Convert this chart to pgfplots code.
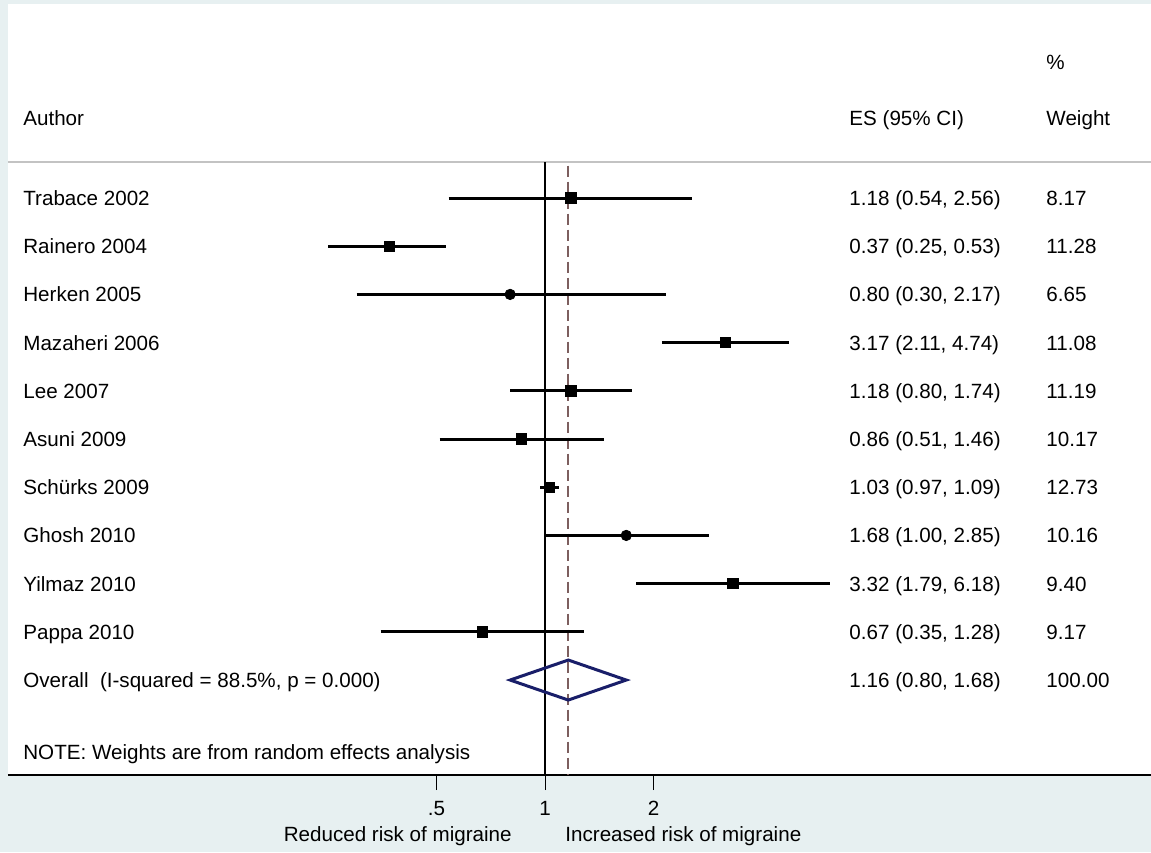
\documentclass[border=0pt]{standalone}
\usepackage{pgfplots}
\pgfplotsset{compat=1.18}
\usepackage{pgfplotstable}
\usepackage{fontspec}
\setmainfont{Liberation Sans}
\definecolor{bgc}{RGB}{231,240,241}
\definecolor{navyd}{RGB}{25,30,105}
\definecolor{dashc}{RGB}{125,95,95}
\definecolor{hdr}{RGB}{195,195,195}

% study rows: y = -row number
\pgfplotstableread{
y es
-1 1.18
-2 0.37
-4 3.17
-5 1.18
-6 0.86
-7 1.03
-9 3.32
-10 0.67
}\squares
\pgfplotstableread{
y es
-3 0.80
-8 1.68
}\circles
\pgfplotstableread{
x y
0.54 -1
2.56 -1
nan nan
0.25 -2
0.53 -2
nan nan
0.30 -3
2.17 -3
nan nan
2.11 -4
4.74 -4
nan nan
0.80 -5
1.74 -5
nan nan
0.51 -6
1.46 -6
nan nan
0.97 -7
1.09 -7
nan nan
1.00 -8
2.85 -8
nan nan
1.79 -9
6.18 -9
nan nan
0.35 -10
1.28 -10
}\cis

\tikzset{lab/.style={anchor=base west, inner sep=0pt, yshift=-3.7pt, font=\fontsize{10.3}{12}\selectfont}}

\begin{document}
\begin{tikzpicture}
\fill[bgc] (0,0) rectangle (575.5pt,426pt);
\begin{axis}[
  at={(4pt,38.5pt)}, anchor=south west,
  width=571.5pt, height=385.5pt, scale only axis,
  xmode=log, log basis x=2,
  xmin=0.03235, xmax=48.0,
  ymin=-12.97, ymax=3.025,
  axis x line*=bottom, axis y line=none,
  x axis line style={line width=1pt},
  axis background/.style={fill=white},
  xtick={0.5,1,2}, xticklabels={{.5},{1},{2}},
  minor xtick={}, ytick=\empty,
  tick align=outside, major tick length=7.5pt,
  tick style={black, line width=0.5pt},
  xticklabel style={anchor=base, yshift=-12.7pt, font=\fontsize{10.3}{12}\selectfont},
  clip=false,
]
% header separator
\addplot[hdr, line width=0.8pt] coordinates {(0.03235,-0.253) (48,-0.253)};
% null line and overall line
\addplot[black, line width=0.7pt] coordinates {(1,-0.253) (1,-12.97)};
\addplot[dashc, line width=0.8pt, dash pattern=on 5.5pt off 2.5pt] coordinates {(1.16,-0.33) (1.16,-12.97)};
% confidence intervals
\addplot[black, line width=1.5pt, unbounded coords=jump] table[x=x, y=y] {\cis};
% point estimates
\addplot[only marks, mark=square*, mark size=2.6pt, black] table[x=es, y=y] {\squares};
\addplot[only marks, mark=*, mark size=2.6pt, black] table[x=es, y=y] {\circles};
% overall diamond
\addplot[navyd, line width=1.5pt] coordinates {(0.80,-11) (1.16,-10.585) (1.68,-11) (1.16,-11.415) (0.80,-11)} -- cycle;

% headers
\node[lab] at (axis cs:24.55,1.82) {\%};
\node[lab] at (axis cs:0.0356,0.66) {Author};
\node[lab] at (axis cs:6.974,0.66) {ES (95\% CI)};
\node[lab] at (axis cs:24.55,0.66) {Weight};
% rows
\node[lab] at (axis cs:0.0356,-1) {Trabace 2002};
\node[lab] at (axis cs:0.0356,-2) {Rainero 2004};
\node[lab] at (axis cs:0.0356,-3) {Herken 2005};
\node[lab] at (axis cs:0.0356,-4) {Mazaheri 2006};
\node[lab] at (axis cs:0.0356,-5) {Lee 2007};
\node[lab] at (axis cs:0.0356,-6) {Asuni 2009};
\node[lab] at (axis cs:0.0356,-7) {Schürks 2009};
\node[lab] at (axis cs:0.0356,-8) {Ghosh 2010};
\node[lab] at (axis cs:0.0356,-9) {Yilmaz 2010};
\node[lab] at (axis cs:0.0356,-10) {Pappa 2010};
\node[lab] at (axis cs:0.0356,-11) {Overall\ \ (I-squared = 88.5\%, p = 0.000)};
\node[lab] at (axis cs:0.0356,-12.49) {NOTE: Weights are from random effects analysis};
\node[lab] at (axis cs:6.974,-1) {1.18 (0.54, 2.56)};
\node[lab] at (axis cs:6.974,-2) {0.37 (0.25, 0.53)};
\node[lab] at (axis cs:6.974,-3) {0.80 (0.30, 2.17)};
\node[lab] at (axis cs:6.974,-4) {3.17 (2.11, 4.74)};
\node[lab] at (axis cs:6.974,-5) {1.18 (0.80, 1.74)};
\node[lab] at (axis cs:6.974,-6) {0.86 (0.51, 1.46)};
\node[lab] at (axis cs:6.974,-7) {1.03 (0.97, 1.09)};
\node[lab] at (axis cs:6.974,-8) {1.68 (1.00, 2.85)};
\node[lab] at (axis cs:6.974,-9) {3.32 (1.79, 6.18)};
\node[lab] at (axis cs:6.974,-10) {0.67 (0.35, 1.28)};
\node[lab] at (axis cs:6.974,-11) {1.16 (0.80, 1.68)};
\node[lab] at (axis cs:24.55,-1) {8.17};
\node[lab] at (axis cs:24.55,-2) {11.28};
\node[lab] at (axis cs:24.55,-3) {6.65};
\node[lab] at (axis cs:24.55,-4) {11.08};
\node[lab] at (axis cs:24.55,-5) {11.19};
\node[lab] at (axis cs:24.55,-6) {10.17};
\node[lab] at (axis cs:24.55,-7) {12.73};
\node[lab] at (axis cs:24.55,-8) {10.16};
\node[lab] at (axis cs:24.55,-9) {9.40};
\node[lab] at (axis cs:24.55,-10) {9.17};
\node[lab] at (axis cs:24.55,-11) {100.00};
% x axis captions
\node[anchor=base east, inner sep=0pt, font=\fontsize{10.3}{12}\selectfont, yshift=-33.2pt] at (axis cs:0.810,-12.97) {Reduced risk of migraine};
\node[anchor=base west, inner sep=0pt, font=\fontsize{10.3}{12}\selectfont, yshift=-33.2pt] at (axis cs:1.136,-12.97) {Increased risk of migraine};
\end{axis}
\pgfresetboundingbox
\path[use as bounding box] (0,0) rectangle (575.5pt,426pt);
\end{tikzpicture}
\end{document}
